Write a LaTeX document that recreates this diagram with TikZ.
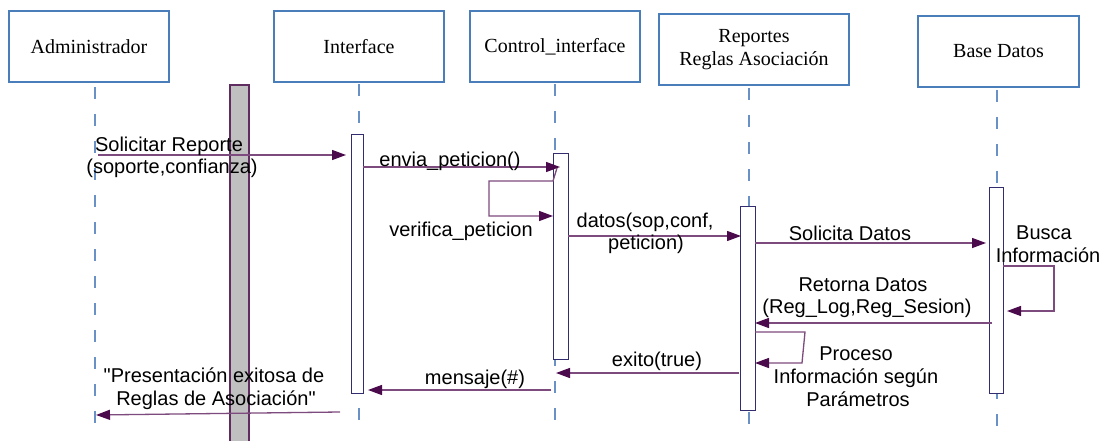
\documentclass[tikz,border=0pt]{standalone}
\usepackage{fontspec}
\setmainfont{Liberation Serif}
\newfontfamily\arialfont{Liberation Sans}
\usetikzlibrary{arrows.meta}
\definecolor{boxblue}{RGB}{74,126,187}
\definecolor{lifeblue}{RGB}{105,145,198}
\definecolor{actnavy}{RGB}{50,45,110}
\definecolor{msgline}{RGB}{125,75,125}
\definecolor{msghead}{RGB}{75,10,75}
\definecolor{barfill}{RGB}{192,192,192}
\definecolor{barline}{RGB}{95,45,95}
\tikzset{
  obj/.style={draw=boxblue, line width=1.3pt, fill=white, inner sep=0pt, align=center,
    font=\fontsize{20}{23}\selectfont, minimum height=71pt},
  life/.style={draw=lifeblue, line width=1.5pt, dash pattern=on 12pt off 15pt},
  actbox/.style={draw=actnavy, line width=1pt, fill=white, inner sep=0pt},
  msg/.style={draw=msgline, line width=1.3pt, -{Triangle[length=14pt,width=10pt,color=msghead]}},
  lbl/.style={font=\arialfont\fontsize{20}{23}\selectfont, anchor=base, inner sep=0pt},
}
\begin{document}
\begin{tikzpicture}[x=1pt,y=-1pt]
\useasboundingbox (0,0) rectangle (1111,441);
\fill[white] (0,0) rectangle (1111,441);
% grey bar
\draw[fill=barfill, draw=barline, line width=1.4pt] (230,85) rectangle (249,460);
% lifelines
\coordinate (l1a) at (95,87);   \coordinate (l1b) at (95,427);
\coordinate (l2a) at (359,84);  \coordinate (l2b) at (359,422);
\coordinate (l3a) at (555,84);  \coordinate (l3b) at (555,423);
\coordinate (l4a) at (749,88);  \coordinate (l4b) at (749,427);
\coordinate (l5a) at (997,90);  \coordinate (l5b) at (997,430);
\draw[life] (l1a) -- (l1b);
\draw[life] (l2a) -- (l2b);
\draw[life] (l3a) -- (l3b);
\draw[life] (l4a) -- (l4b);
\draw[life] (l5a) -- (l5b);
% objects
\node[obj, minimum width=160pt] (admin) at (89,46.5) {Administrador};
\node[obj, minimum width=170pt] (iface) at (359,46.5) {Interface};
\node[obj, minimum width=170pt] (ctrl) at (555,46.5) {Control\_interface};
\node[obj, minimum width=190pt] (rep) at (754,49.5) {Reportes\\Reglas Asociación};
\node[obj, minimum width=161pt] (bd) at (998.5,51.5) {Base Datos};
% activations
\node[actbox, minimum width=12pt, minimum height=258pt] (act1) at (357,264) {};
\node[actbox, minimum width=15pt, minimum height=205pt] (act2) at (560.5,256.5) {};
\node[actbox, minimum width=15pt, minimum height=204pt] (act3) at (747.5,308) {};
\node[actbox, minimum width=14pt, minimum height=206pt] (act4) at (996,290) {};
% message end points
\coordinate (m1a) at (98,155);  \coordinate (m1b) at (346,155);
\coordinate (m2a) at (363,167); \coordinate (m2b) at (560,167);
\coordinate (m3a) at (557,168); \coordinate (m3b) at (553,216);
\coordinate (m4a) at (568,236); \coordinate (m4b) at (741,236);
\coordinate (m5a) at (755,243); \coordinate (m5b) at (986,243);
\coordinate (m6a) at (1003,266); \coordinate (m6b) at (1007,311);
\coordinate (m7a) at (992,323); \coordinate (m7b) at (755,323);
\coordinate (m8a) at (755,332); \coordinate (m8b) at (755,363);
\coordinate (m9a) at (739,373); \coordinate (m9b) at (556,373);
\coordinate (m10a) at (551,390); \coordinate (m10b) at (368,390);
\coordinate (m11a) at (340,412); \coordinate (m11b) at (96,415);
% messages
\draw[msg] (m1a) -- (m1b);
\draw[msg] (m2a) -- (m2b);
\draw[msg] (m3a) -- (553,181) -- (489,181) -- (489,216) -- (m3b);
\draw[msg] (m4a) -- (m4b);
\draw[msg] (m5a) -- (m5b);
\draw[msg] (m6a) -- (1054,266) -- (1054,311) -- (m6b);
\draw[msg] (m7a) -- (m7b);
\draw[msg] (m8a) -- (805,332) -- (802,363) -- (m8b);
\draw[msg] (m9a) -- (m9b);
\draw[msg] (m10a) -- (m10b);
\draw[msg] (m11a) -- (m11b);
% labels
\node[lbl] (t1a) at (169,151.5) {Solicitar Reporte};
\node[lbl] (t1b) at (172,173.5) {(soporte,confianza)};
\node[lbl] (t2) at (450,166) {envia\_peticion()};
\node[lbl] (t3) at (461,236) {verifica\_peticion};
\node[lbl] (t4a) at (645,227) {datos(sop,conf,};
\node[lbl] (t4b) at (646,249) {peticion)};
\node[lbl] (t5) at (850,240) {Solicita Datos};
\node[lbl] (t6a) at (1044,239) {Busca};
\node[lbl] (t6b) at (1048,262) {Información};
\node[lbl] (t7a) at (863,291) {Retorna Datos};
\node[lbl] (t7b) at (867,313) {(Reg\_Log,Reg\_Sesion)};
\node[lbl] (t8a) at (856,360) {Proceso};
\node[lbl] (t8b) at (856,383) {Información según};
\node[lbl] (t8c) at (858,406) {Parámetros};
\node[lbl] (t9) at (657,366) {exito(true)};
\node[lbl] (t10) at (475,384) {mensaje(\#)};
\node[lbl] (t11a) at (214,382) {"Presentación exitosa de};
\node[lbl] (t11b) at (216,405) {Reglas de Asociación"};
\end{tikzpicture}
\end{document}
